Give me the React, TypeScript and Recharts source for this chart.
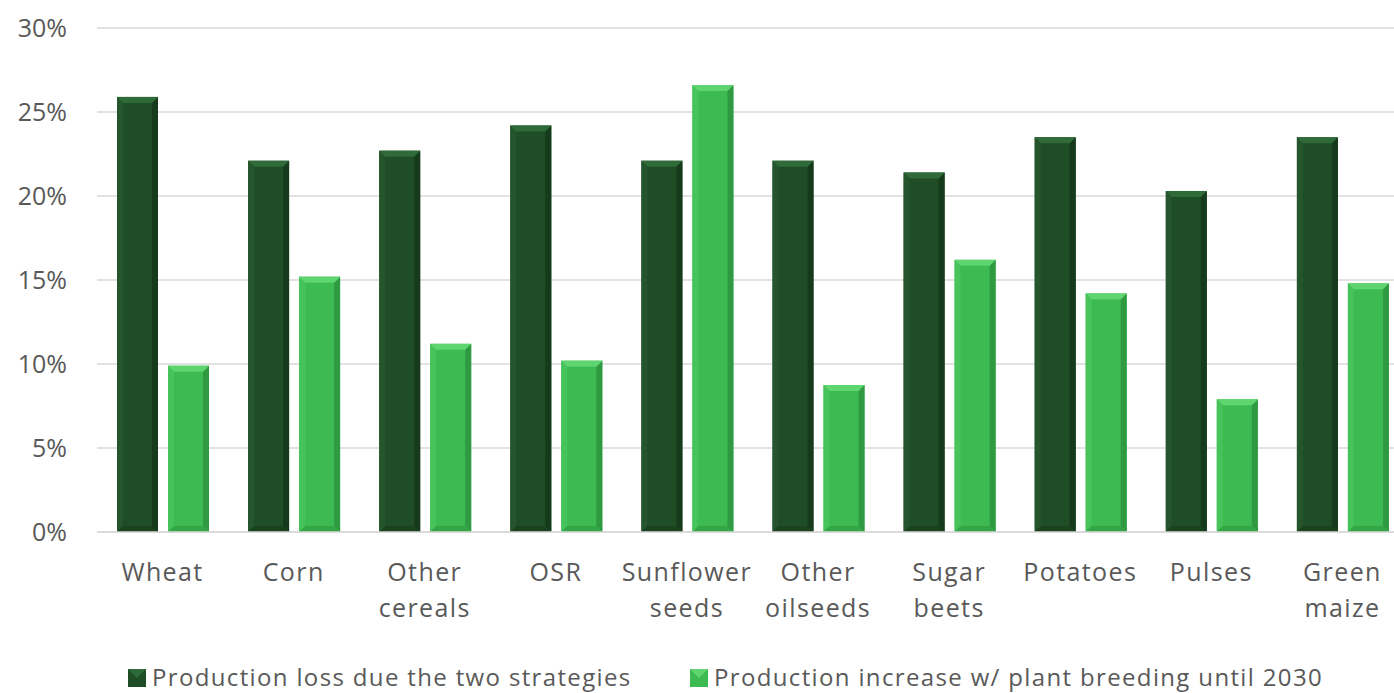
import React from 'react';
import { BarChart, Bar, XAxis, YAxis, CartesianGrid, Legend } from 'recharts';

const categories = ['Wheat', 'Corn', 'Other cereals', 'OSR', 'Sunflower seeds', 'Other oilseeds', 'Sugar beets', 'Potatoes', 'Pulses', 'Green maize'];
const categoryLines = [['Wheat'], ['Corn'], ['Other', 'cereals'], ['OSR'], ['Sunflower', 'seeds'], ['Other', 'oilseeds'], ['Sugar', 'beets'], ['Potatoes'], ['Pulses'], ['Green', 'maize']];
const lossValues = [25.9, 22.1, 22.7, 24.2, 22.1, 22.1, 21.4, 23.5, 20.3, 23.5];
const increaseValues = [9.9, 15.2, 11.2, 10.2, 26.6, 8.75, 16.2, 14.2, 7.9, 14.8];
const yTicks = [0, 5, 10, 15, 20, 25, 30];
const seriesNames = ['Production loss due the two strategies', 'Production increase w/ plant breeding until 2030'];

const data = categories.map((c, i) => ({ name: c, loss: lossValues[i], increase: increaseValues[i] }));

const FONT = 'Open Sans, Noto Sans, sans-serif';
const TEXT = '#595959';
const DARK = '#1e4d26';
const LIGHT = '#3dbb52';

const palette: Record<string, { main: string; top: string; side: string; shade: string; bottom: string }> = {
  dark: { main: DARK, top: '#2f6a39', side: '#24552c', shade: '#163a1c', bottom: '#1a421f' },
  light: { main: LIGHT, top: '#5fd570', side: '#46c35a', shade: '#2f9a41', bottom: '#34a646' },
};

const BevelBar = (kind: string) => (props: any) => {
  const { x, y, width, height } = props;
  if (height <= 0) return null;
  const p = palette[kind];
  const b = Math.min(6, height / 2);
  return (
    <g>
      <rect x={x} y={y} width={width} height={height} fill={p.main} />
      <polygon points={`${x},${y} ${x + b},${y + b} ${x + b},${y + height - b} ${x},${y + height}`} fill={p.side} />
      <polygon points={`${x + width},${y} ${x + width - b},${y + b} ${x + width - b},${y + height - b} ${x + width},${y + height}`} fill={p.shade} />
      <polygon points={`${x},${y} ${x + width},${y} ${x + width - b},${y + b} ${x + b},${y + b}`} fill={p.top} />
      <polygon points={`${x},${y + height} ${x + width},${y + height} ${x + width - b},${y + height - b} ${x + b},${y + height - b}`} fill={p.bottom} />
    </g>
  );
};

const XTick = (props: any) => {
  const { x, y, payload, index } = props;
  const lines = categoryLines[index] || [payload.value];
  return (
    <g>
      {lines.map((l: string, i: number) => (
        <text key={i} x={x} y={y + 41 + i * 36} textAnchor="middle" fill={TEXT} fontSize={25} letterSpacing={1.4} fontFamily={FONT}>
          {l}
        </text>
      ))}
    </g>
  );
};

const LegendContent = () => {
  const items = [
    { name: seriesNames[0], kind: 'dark', x: 128 },
    { name: seriesNames[1], kind: 'light', x: 690 },
  ];
  return (
    <svg width={1394} height={60} style={{ display: 'block' }}>
      {items.map((it) => {
        const p = palette[it.kind];
        const s = 18;
        const yy = 36;
        return (
          <g key={it.name}>
            <rect x={it.x} y={yy} width={s} height={s} fill={p.main} />
            <polygon points={`${it.x},${yy} ${it.x + s},${yy} ${it.x + s / 2},${yy + s / 2}`} fill={p.top} />
            <text x={it.x + s + 6} y={53} fill={TEXT} fontSize={24} letterSpacing={1.35} fontFamily={FONT}>
              {it.name}
            </text>
          </g>
        );
      })}
    </svg>
  );
};

export default function App() {
  return (
    <div style={{ position: 'absolute', left: 0, top: 0, background: '#fff', width: 1394, height: 693, overflow: 'hidden' }}>
      <BarChart
        width={1394}
        height={693}
        data={data}
        margin={{ top: 28, right: -14, left: 0, bottom: 0 }}
        barCategoryGap={20}
        barGap={10}
      >
        <CartesianGrid vertical={false} stroke="#d9d9d9" strokeWidth={1.5} />
        <XAxis
          dataKey="name"
          tick={<XTick />}
          tickLine={false}
          axisLine={{ stroke: '#d9d9d9', strokeWidth: 1.5 }}
          height={101}
          interval={0}
        />
        <YAxis
          domain={[0, 30]}
          ticks={yTicks}
          tickFormatter={(v: number) => `${v}%`}
          tick={{ fill: TEXT, fontSize: 25, fontFamily: FONT }}
          tickLine={false}
          axisLine={false}
          tickSize={0}
          tickMargin={30}
          width={97}
          interval={0}
        />
        <Legend verticalAlign="bottom" height={60} content={<LegendContent />} />
        <Bar dataKey="loss" name={seriesNames[0]} fill={DARK} isAnimationActive={false} shape={BevelBar('dark')} />
        <Bar dataKey="increase" name={seriesNames[1]} fill={LIGHT} isAnimationActive={false} shape={BevelBar('light')} />
      </BarChart>
    </div>
  );
}
